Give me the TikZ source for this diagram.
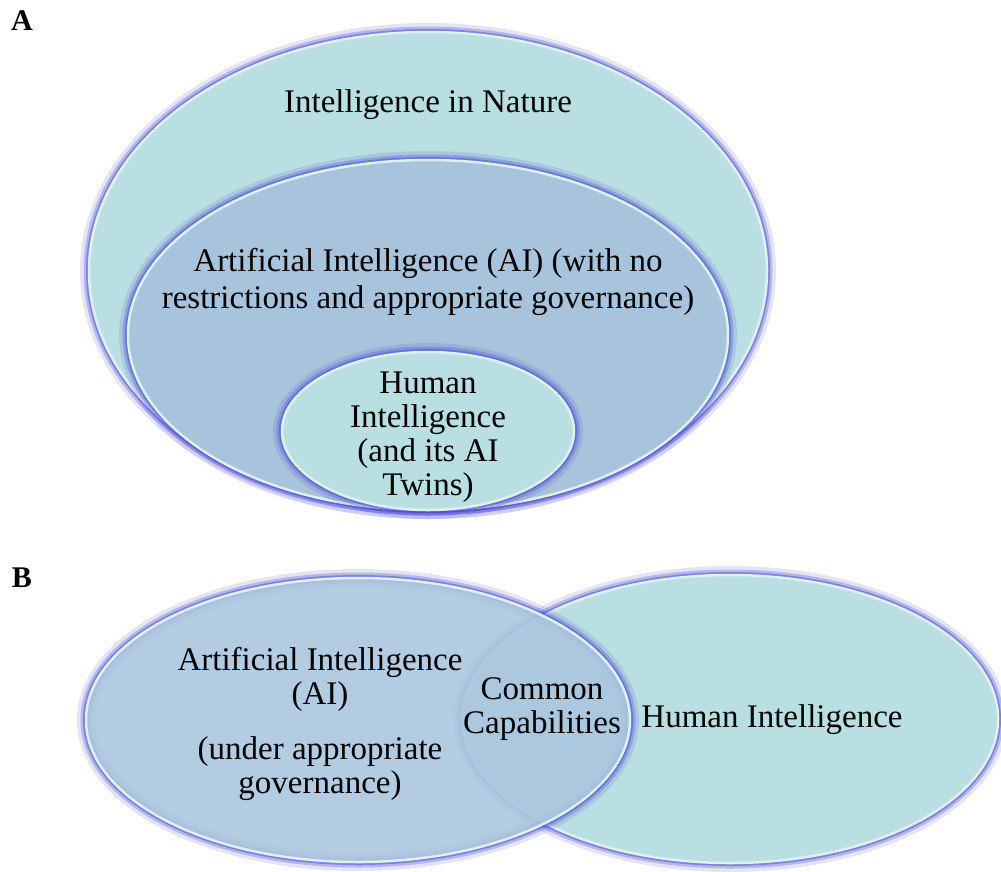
\documentclass[tikz,border=0pt]{standalone}
\usepackage{fontspec}
\setmainfont{Liberation Serif}
\definecolor{natfill}{HTML}{BADFE2}
\definecolor{aifill}{HTML}{A7C4DC}
\definecolor{vennai}{HTML}{ABC6DE}
\definecolor{glowblue}{HTML}{4B4BCF}
\definecolor{rimwhite}{HTML}{DDF0F2}

\begin{document}
\begin{tikzpicture}[x=1pt,y=-1pt,
	halo/.style={preaction={draw=glowblue,line width=18pt,opacity=.15},
		preaction={draw=glowblue,line width=11pt,opacity=.3},
		preaction={draw=glowblue,line width=6pt,opacity=.5},
		draw=rimwhite,line width=2.5pt},
	txt/.style={align=center,inner sep=0pt,font=\fontsize{33}{34}\selectfont},
	tag/.style={inner sep=0pt,font=\fontsize{30}{30}\selectfont\bfseries}]
	\useasboundingbox (0,0) rectangle (1001,871);

	\coordinate (nature) at (428,271);
	\coordinate (ai) at (428,335);
	\coordinate (human) at (428,431);
	\coordinate (aiB) at (358,720);
	\coordinate (humanB) at (730,719);

	\draw[halo,fill=natfill] (nature) ellipse [x radius=339pt,y radius=239pt];
	\draw[halo,fill=aifill] (ai) ellipse [x radius=300pt,y radius=175pt];
	\draw[halo,fill=natfill] (human) ellipse [x radius=146pt,y radius=79pt];

	\draw[halo,fill=natfill] (humanB) ellipse [x radius=268pt,y radius=144pt];
	\draw[halo,fill=vennai,fill opacity=.9] (aiB) ellipse [x radius=272pt,y radius=142pt];

	\node[tag] (labA) at (22,21) {A};
	\node[txt] (natText) at (428,105) {Intelligence in Nature};
	\node[txt] (aiText) at (428,282) {Artificial Intelligence (AI) (with no\\[3pt]
		restrictions and appropriate governance)};
	\node[txt] (humText) at (428,437) {Human\\Intelligence\\(and its AI\\Twins)};

	\node[tag] (labB) at (22,578) {B};
	\node[txt] (aiTextB) at (320,724) {Artificial Intelligence\\(AI)\\[21pt]
		(under appropriate\\governance)};
	\node[txt] (common) at (542,709) {Common\\Capabilities};
	\node[txt] (humTextB) at (772,720) {Human Intelligence};
\end{tikzpicture}
\end{document}
